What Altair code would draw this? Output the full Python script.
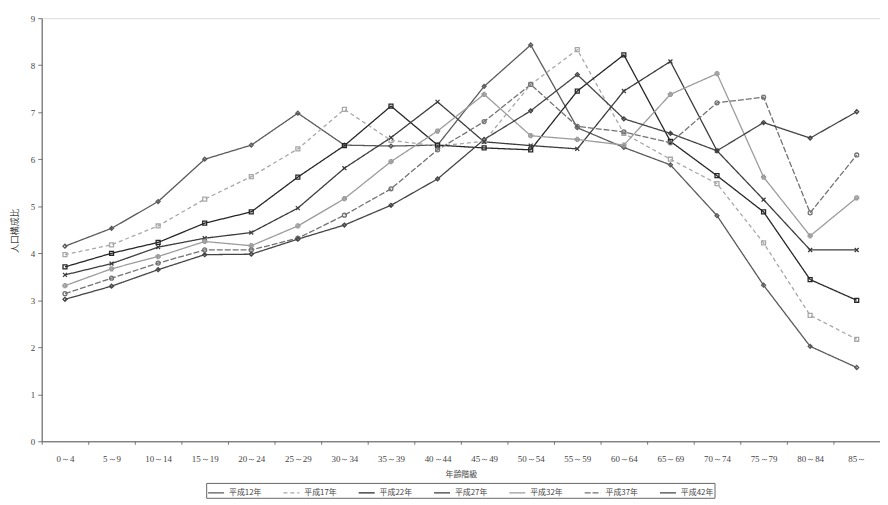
import altair as alt
import pandas as pd

ages = ["0～4", "5～9", "10～14", "15～19", "20～24", "25～29", "30～34", "35～39",
        "40～44", "45～49", "50～54", "55～59", "60～64", "65～69", "70～74",
        "75～79", "80～84", "85～"]

series_names = ["平成12年", "平成17年", "平成22年", "平成27年", "平成32年", "平成37年", "平成42年"]

h12 = [4.15, 4.53, 5.10, 6.00, 6.30, 6.98, 6.30, 6.28, 6.30, 7.55, 8.43, 6.67, 6.25, 5.88, 4.80, 3.32, 2.02, 1.57]
h17 = [3.97, 4.18, 4.58, 5.15, 5.63, 6.22, 7.06, 6.40, 6.28, 6.38, 7.59, 8.33, 6.55, 6.00, 5.48, 4.22, 2.68, 2.17]
h22 = [3.71, 4.00, 4.23, 4.64, 4.88, 5.62, 6.29, 7.13, 6.30, 6.24, 6.20, 7.45, 8.22, 6.38, 5.65, 4.88, 3.44, 3.00]
h27 = [3.54, 3.78, 4.13, 4.32, 4.44, 4.96, 5.81, 6.46, 7.22, 6.37, 6.29, 6.22, 7.45, 8.08, 6.18, 5.14, 4.07, 4.07]
h32 = [3.31, 3.67, 3.93, 4.25, 4.16, 4.58, 5.16, 5.95, 6.60, 7.38, 6.50, 6.42, 6.30, 7.38, 7.82, 5.62, 4.37, 5.18]
h37 = [3.14, 3.47, 3.79, 4.07, 4.07, 4.32, 4.81, 5.37, 6.20, 6.80, 7.59, 6.70, 6.58, 6.35, 7.20, 7.32, 4.86, 6.09]
h42 = [3.02, 3.30, 3.65, 3.97, 3.98, 4.30, 4.60, 5.02, 5.58, 6.42, 7.03, 7.80, 6.86, 6.55, 6.18, 6.78, 6.45, 7.01]

y_ticks = [0, 1, 2, 3, 4, 5, 6, 7, 8, 9]

all_series = [h12, h17, h22, h27, h32, h37, h42]
rows = []
for name, vals in zip(series_names, all_series):
    for a, v in zip(ages, vals):
        rows.append({"age": a, "series": name, "value": v})
df = pd.DataFrame(rows)

colors = ["#5a5a5a", "#a8a8a8", "#262626", "#3c3c3c", "#9c9c9c", "#727272", "#444444"]
dashes = [[1, 0], [4, 3], [1, 0], [1, 0], [1, 0], [6, 2], [1, 0]]
shapes = ["diamond", "square", "square", "M-1,-1L1,1M-1,1L1,-1", "cross", "circle", "diamond"]

legend_def = alt.Legend(
    title=None, orient="none", legendX=166, legendY=469, direction="horizontal",
    columns=7, strokeColor="#666", padding=1, labelFont="Noto Sans CJK JP",
    labelFontSize=8, labelColor="#444", symbolType="stroke", symbolSize=260,
    symbolStrokeWidth=1.3, columnPadding=19, labelOffset=4
)

x_enc = alt.X("age:N", sort=ages,
              scale=alt.Scale(type="band", domain=ages, paddingInner=0, paddingOuter=0),
              axis=alt.Axis(title="年齢階級", tickBand="extent", labelAngle=0,
                            labelFont="Liberation Serif", labelFontSize=9, labelColor="#444",
                            labelPadding=10, tickSize=3, tickColor="#777",
                            domainColor="#555", titleFont="Noto Sans CJK JP",
                            titleFontSize=8, titleFontWeight="normal", titleColor="#444",
                            titleY=30, titleX=423))
y_enc = alt.Y("value:Q", scale=alt.Scale(domain=[0, 9], nice=False),
              axis=alt.Axis(title="人口構成比", values=y_ticks, grid=False,
                            labelFont="Liberation Serif", labelFontSize=9, labelColor="#444",
                            labelPadding=3, tickSize=4, tickColor="#777", domainColor="#555",
                            titleFont="Noto Sans CJK JP", titleFontSize=9,
                            titleFontWeight="normal", titleColor="#444",
                            titleX=-22, titleY=214))
color_scale = alt.Scale(domain=series_names, range=colors)

lines = alt.Chart(df).mark_line(strokeWidth=1.3).encode(
    x=x_enc, y=y_enc,
    color=alt.Color("series:N", scale=color_scale, legend=legend_def),
    strokeDash=alt.StrokeDash("series:N", scale=alt.Scale(domain=series_names, range=dashes),
                              legend=legend_def),
    detail="series:N",
)

layers = [lines]
for name, shp in zip(series_names, shapes):
    layers.append(
        alt.Chart(df).transform_filter(alt.datum.series == name)
        .mark_point(filled=False, size=16, strokeWidth=1.3, opacity=1, shape=shp)
        .encode(x=x_enc, y=y_enc,
                color=alt.Color("series:N", scale=color_scale, legend=None))
    )

chart = alt.layer(*layers).properties(
    width=846, height=427,
    autosize=alt.AutoSizeParams(type="none"),
    padding={"left": 34, "top": 8, "right": 0, "bottom": 62},
).configure_view(
    stroke="#aaa", strokeWidth=1
).configure(background="white")

chart.save("out.html", embed_options={"renderer": "svg", "actions": False})
